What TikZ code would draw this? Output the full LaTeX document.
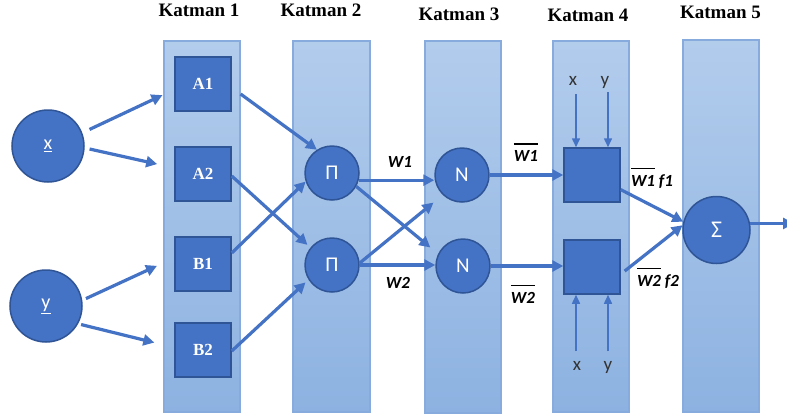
\documentclass[tikz,border=0pt]{standalone}
\usepackage{fontspec}
\setmainfont{Liberation Serif}
\newfontfamily\sansf{Carlito}
\usetikzlibrary{arrows.meta,calc}
\definecolor{nodeblue}{HTML}{4472C4}
\definecolor{nodeedge}{HTML}{2F5597}
\definecolor{paneltop}{HTML}{B2CCEC}
\definecolor{panelbot}{HTML}{8DB2E1}
\definecolor{paneledge}{HTML}{86ABDC}
\definecolor{lblgray}{HTML}{333333}
\newcommand\obar[1]{\sbox0{#1}\rlap{\rule[17pt]{\wd0}{1.4pt}}\usebox0}
\tikzset{
  panel/.style={draw=paneledge, line width=1.2pt, top color=paneltop, bottom color=panelbot, inner sep=0pt, minimum width=76pt, minimum height=371pt},
  circ/.style={circle, fill=nodeblue, draw=nodeedge, line width=1.5pt, inner sep=0pt, text=white, font=\sansf\fontsize{21}{21}\selectfont},
  sqbox/.style={rectangle, fill=nodeblue, draw=nodeedge, line width=1.5pt, inner sep=0pt, minimum width=56pt, minimum height=54pt, text=white, font=\bfseries\fontsize{17}{17}\selectfont},
  conn/.style={draw=nodeblue, line width=3.2pt, -{Triangle[length=11pt,width=11pt]}},
  thinarr/.style={draw=nodeblue, line width=1.5pt, -{Triangle[length=9pt,width=8pt]}},
  title/.style={anchor=base, inner sep=0pt, font=\bfseries\fontsize{19}{20}\selectfont},
  wlab/.style={anchor=base, inner sep=0pt, font=\sansf\bfseries\itshape\fontsize{17}{17}\selectfont},
  xylab/.style={anchor=base, inner sep=0pt, text=lblgray, font=\sansf\fontsize{19}{19}\selectfont}
}
\begin{document}
\begin{tikzpicture}[x=1pt,y=-1pt]
\useasboundingbox (0,0) rectangle (787,418);
\clip (0,0) rectangle (787,418);
% panels
\node[panel] (K1) at (202,226.5) {};
\node[panel, minimum width=77pt] (K2) at (331.5,226.5) {};
\node[panel, minimum height=372pt] (K3) at (463,227) {};
\node[panel] (K4) at (591,226.5) {};
\node[panel, minimum height=372pt] (K5) at (721,226) {};
% titles
\node[title] (T1) at (199,16.5) {Katman 1};
\node[title] (T2) at (321,16) {Katman 2};
\node[title] (T3) at (459,20.5) {Katman 3};
\node[title] (T4) at (588,21.5) {Katman 4};
\node[title] (T5) at (720.5,18) {Katman 5};
% input circles
\node[circ, minimum size=72pt, font=\sansf\fontsize{20}{20}\selectfont] (X) at (48,146) {\underline{x}};
\node[circ, minimum size=72pt, font=\sansf\fontsize{20}{20}\selectfont] (Y) at (46,306) {\underline{y}};
% layer 1
\node[sqbox] (A1) at (203,84) {A1};
\node[sqbox] (A2) at (203,174) {A2};
\node[sqbox] (B1) at (203,264) {B1};
\node[sqbox] (B2) at (203,350) {B2};
% layer 2
\node[circ, minimum size=54pt] (P1) at (332,173) {Π};
\node[circ, minimum size=54pt] (P2) at (332,265) {Π};
% layer 3
\node[circ, minimum size=54pt] (N1) at (462,175) {N};
\node[circ, minimum size=54pt] (N2) at (463,266) {N};
% layer 4
\node[sqbox] (S1) at (592,175) {};
\node[sqbox] (S2) at (592,267) {};
% layer 5
\node[circ, minimum size=67pt, font=\sansf\fontsize{24}{24}\selectfont] (Sg) at (716.5,230) {Σ};
\coordinate (Out) at (794,223);
% connectors
\draw[conn, shorten <=8pt, shorten >=13pt] (X.21) -- (A1.191);
\draw[conn, shorten <=5pt, shorten >=17.5pt] (X.357) -- (A2.168);
\draw[conn, shorten <=4pt, shorten >=19pt] (Y.9) -- (B1.168);
\draw[conn, shorten <=3pt, shorten >=20.5pt] (Y.331) -- (B2.175);
\draw[conn, shorten <=11pt] (A1.353) -- (P1.123);
\draw[conn, shorten >=4pt] (A2.356) -- (P2.141);
\draw[conn] (B1.21) -- (P1.198);
\draw[conn, shorten >=4pt] (B2.358) -- (P2.212);
\draw[conn] (P1.345) -- (P1.345 -| N1.west);
\draw[conn, shorten >=10pt] (P1.331) -- (N2.154);
\draw[conn, shorten >=12pt] (P2.4) -- (N1.226);
\draw[conn] (P2.east) -- (P2.east -| N2.west);
\draw[conn] (N1.east) -- (N1.east -| S1.west);
\draw[conn] (N2.east) -- (N2.east -| S2.west);
\draw[conn] (S1.333) -- (Sg.166);
\draw[conn, shorten <=5pt] (S2.346) -- (Sg.172);
\draw[conn] (Sg.11) -- (Sg.11 -| Out);
% x / y inputs of layer 4
\coordinate (tx) at (576,94);
\coordinate (ty) at (608,92);
\coordinate (bx) at (576,351);
\coordinate (by) at (608,351);
\draw[thinarr] (tx) -- (tx |- S1.north);
\draw[thinarr] (ty) -- (ty |- S1.north);
\draw[thinarr] (bx) -- (bx |- S2.south);
\draw[thinarr] (by) -- (by |- S2.south);
\node[xylab] (lx1) at (573,85) {x};
\node[xylab] (ly1) at (605,85) {y};
\node[xylab] (lx2) at (577,370) {x};
\node[xylab] (ly2) at (608,370) {y};
% weight labels
\node[wlab] (w1) at (400,167) {W1};
\node[wlab] (w2) at (398,288) {W2};
\node[wlab] (wb1) at (526,161.5) {\obar{W1}};
\node[wlab] (wb2) at (523,303) {\obar{W2}};
\node[wlab] (wf1) at (652,186) {\obar{W1} f1};
\node[wlab] (wf2) at (658,286) {\obar{W2} f2};
\end{tikzpicture}
\end{document}
